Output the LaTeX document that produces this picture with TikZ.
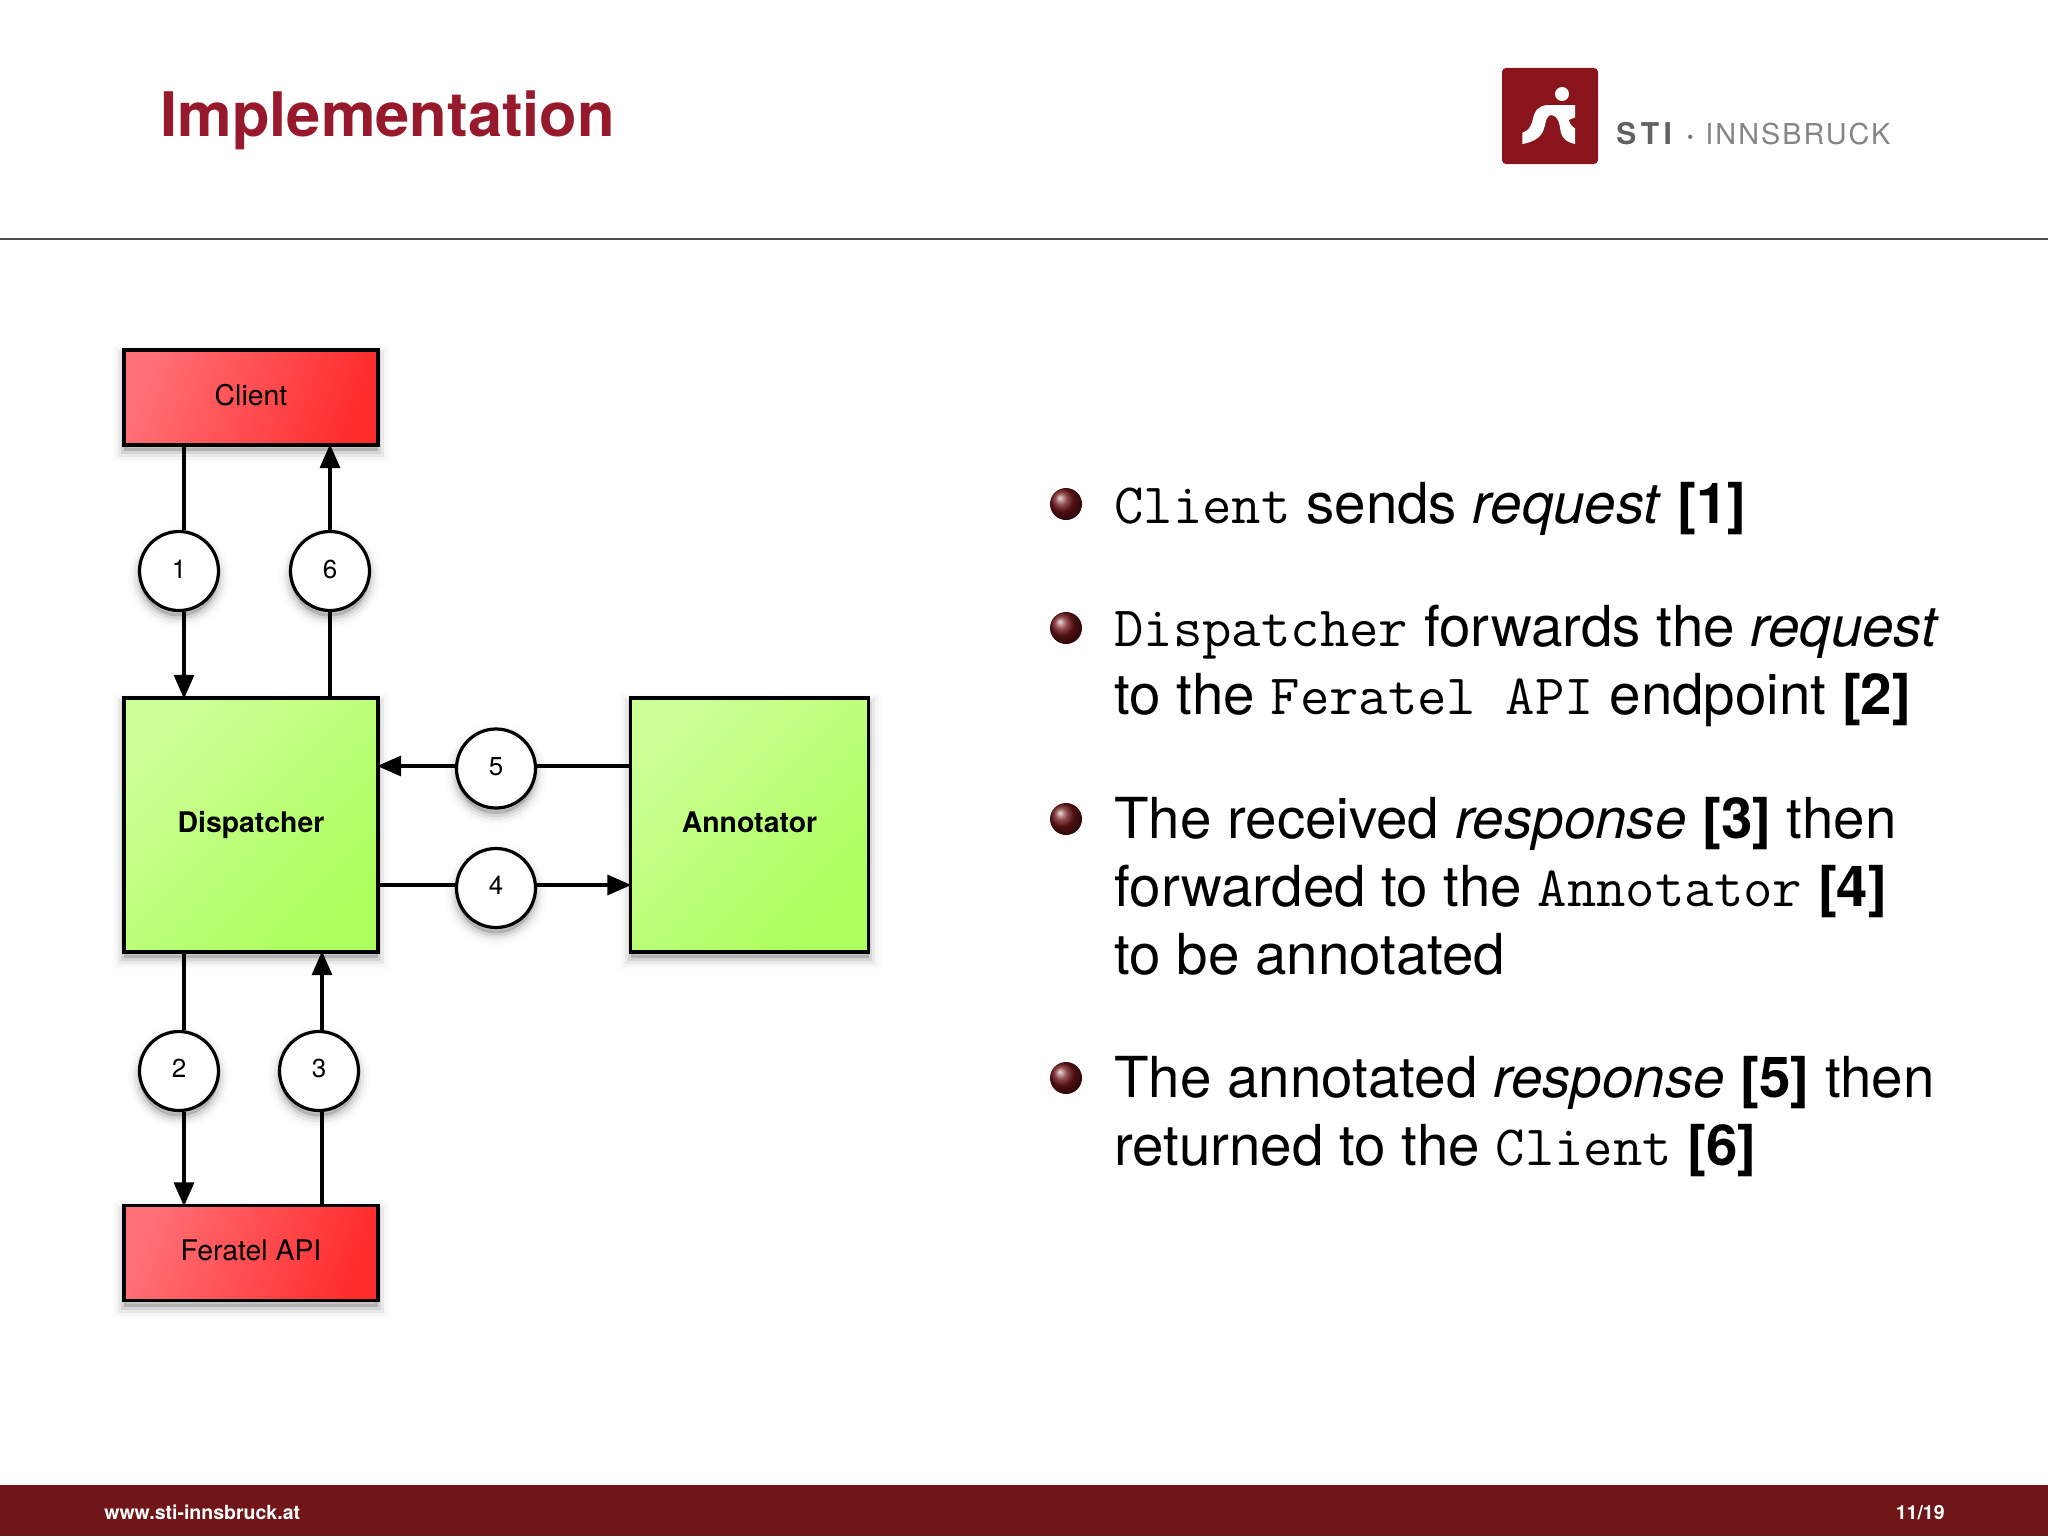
\documentclass[tikz,border=0pt]{standalone}
\usepackage{fontspec}
\setmainfont{TeX Gyre Heros}
\setmonofont[Scale=1.01]{Latin Modern Mono}
\usetikzlibrary{arrows.meta,shadings}
\definecolor{stired}{HTML}{701518}
\definecolor{titlered}{HTML}{961A2B}
\definecolor{logored}{HTML}{8A141C}
\newcommand{\liftup}[2]{\raisebox{#1}{#2}}
\tikzset{
  x=0.5pt,y=-0.5pt,
  softshadow/.style={
    preaction={draw=black,fill=black,line width=12pt,opacity=.012,transform canvas={yshift=-3pt}},
    preaction={draw=black,fill=black,line width=9pt,opacity=.025,transform canvas={yshift=-3pt}},
    preaction={draw=black,fill=black,line width=6pt,opacity=.05,transform canvas={yshift=-3pt}},
    preaction={draw=black,fill=black,line width=3pt,opacity=.08,transform canvas={yshift=-3pt}}},
  boxbase/.style={rectangle,draw=black,line width=1.6pt,minimum width=127pt,softshadow,inner sep=0pt,font=\fontsize{14.2}{16}\selectfont},
  redbox/.style={boxbase,minimum height=47.5pt,left color={rgb,255:red,255;green,112;blue,118},right color={rgb,255:red,255;green,44;blue,44},shading angle=70},
  greenbox/.style={boxbase,minimum height=127pt,left color={rgb,255:red,204;green,255;blue,150},right color={rgb,255:red,172;green,255;blue,92},shading angle=45,font=\fontsize{14.2}{16}\selectfont\bfseries},
  numcirc/.style={circle,draw=black,line width=1.6pt,fill=white,minimum size=39.5pt,inner sep=0pt,softshadow,font=\fontsize{13}{15}\selectfont},
  conn/.style={draw=black,line width=1.7pt},
  arr/.style={conn,-{Triangle[length=12pt,width=10pt]},shorten >=-1.2pt},
  ball/.style={circle,minimum size=16pt,inner sep=0pt,shading=ball,ball color=stired},
  bodytext/.style={anchor=base west,inner sep=0pt,font=\fontsize{28.25}{34}\selectfont},
  foottext/.style={inner sep=0pt,text=white,font=\fontsize{9.75}{12}\selectfont\bfseries},
}
\begin{document}
\begin{tikzpicture}
\useasboundingbox (0,0) rectangle (2048,1536);
\fill[white] (0,0) rectangle (2048,1536);
% header
\node[anchor=base west,inner sep=0pt,text=titlered,font=\fontsize{30.7}{34}\selectfont\bfseries] (title) at (160,136) {Implementation};
\draw[draw=black!70,line width=1pt] (0,239) -- (2048,239);
% logo
\fill[logored,rounded corners=2pt] (1502,68) rectangle (1598,164);
\fill[white] (1562,94) circle (7);
\fill[white,xshift=730pt,yshift=-20pt,x=0.1667pt,y=-0.1667pt]
  (187,278) .. controls (205,272) and (212,262) .. (218,240)
  .. controls (224,210) and (235,198) .. (262,195)
  -- (345,195) -- (345,232) -- (326,240)
  .. controls (330,255) and (340,262) .. (345,265)
  -- (345,312) .. controls (325,308) and (308,300) .. (302,275)
  .. controls (298,250) and (295,228) .. (275,225)
  .. controls (262,224) and (258,240) .. (254,258)
  .. controls (248,290) and (225,305) .. (187,312) -- cycle;
\node[anchor=base west,inner sep=0pt,text=black!62,font=\fontsize{15}{18}\selectfont\bfseries\addfontfeature{LetterSpace=15}] (logosti) at (1616,144) {STI};
\node[anchor=base west,inner sep=0pt,text=black!55,font=\fontsize{14.4}{18}\selectfont\bfseries] (logodot) at (1686,144) {\textperiodcentered};
\node[anchor=base west,inner sep=0pt,text=black!48,font=\fontsize{14.4}{18}\selectfont\addfontfeature{LetterSpace=7}] (logotext) at (1705,144) {INNSBRUCK};
% diagram nodes
\node[redbox] (client) at (251,397.5) {\liftup{3pt}{Client}};
\node[greenbox] (disp) at (251,825) {\liftup{2pt}{Dispatcher}};
\node[greenbox,minimum width=119pt] (anno) at (749.5,825) {\liftup{3pt}{Annotator}};
\node[redbox] (feratel) at (251,1253) {\liftup{3.2pt}{Feratel API}};
\node[numcirc] (c1) at (179,571) {\liftup{2pt}{1}};
\node[numcirc] (c6) at (330,571) {\liftup{2pt}{6}};
\node[numcirc] (c5) at (496,768.5) {\liftup{2.5pt}{5}};
\node[numcirc] (c4) at (496,888) {\liftup{2.5pt}{4}};
\node[numcirc] (c2) at (179,1071) {\liftup{2.5pt}{2}};
\node[numcirc] (c3) at (319,1071) {\liftup{2.5pt}{3}};
\coordinate (xa) at (184,0);
\coordinate (xb) at (330,0);
\coordinate (xc) at (322,0);
\coordinate (yf) at (0,766);
\coordinate (yg) at (0,885);
% connectors
\draw[conn] (xa |- client.south) -- (xa |- c1.north);
\draw[arr] (xa |- c1.south) -- (xa |- disp.north);
\draw[conn] (xb |- disp.north) -- (c6.south);
\draw[arr] (c6.north) -- (xb |- client.south);
\draw[conn] (anno.west |- yf) -- (c5.east |- yf);
\draw[arr] (c5.west |- yf) -- (disp.east |- yf);
\draw[conn] (disp.east |- yg) -- (c4.west |- yg);
\draw[arr] (c4.east |- yg) -- (anno.west |- yg);
\draw[conn] (xa |- disp.south) -- (xa |- c2.north);
\draw[arr] (xa |- c2.south) -- (xa |- feratel.north);
\draw[conn] (xc |- feratel.north) -- (xc |- c3.south);
\draw[arr] (xc |- c3.north) -- (xc |- disp.south);
% bullets
\node[ball] (b1) at (1066,504) {};
\node[ball] (b2) at (1066,628) {};
\node[ball] (b3) at (1066,819) {};
\node[ball] (b4) at (1066,1078) {};
\node[bodytext] (t1) at (1114,523.5) {\texttt{Client} sends \textit{request} \textbf{[1]}};
\node[bodytext] (t2) at (1114,646.5) {\texttt{Dispatcher} forwards the \textit{request}};
\node[bodytext] (t3) at (1114,714) {to the \texttt{Feratel API} endpoint \textbf{[2]}};
\node[bodytext] (t4) at (1114,838) {The received \textit{response} \textbf{[3]} then};
\node[bodytext] (t5) at (1114,906) {forwarded to the \texttt{Annotator} \textbf{[4]}};
\node[bodytext] (t6) at (1114,974) {to be annotated};
\node[bodytext] (t7) at (1114,1097) {The annotated \textit{response} \textbf{[5]} then};
\node[bodytext] (t8) at (1114,1165) {returned to the \texttt{Client} \textbf{[6]}};
% footer
\fill[stired] (0,1485) rectangle (2048,1536);
\node[foottext,anchor=base west] (fl) at (104,1519) {www.sti-innsbruck.at};
\node[foottext,anchor=base east] (fr) at (1945,1519) {11/19};
\end{tikzpicture}
\end{document}
